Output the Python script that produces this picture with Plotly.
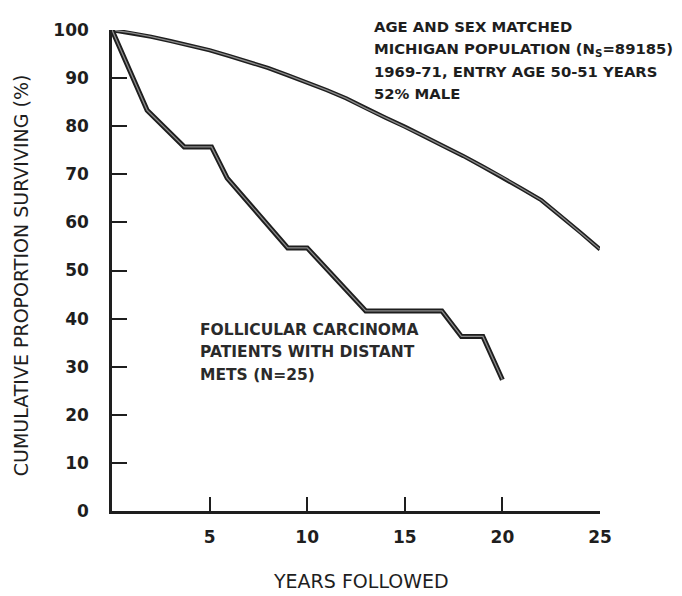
import plotly.graph_objects as go

# ---- data ----
pop_years = [0, 1, 2, 3, 4, 5, 6, 7, 8, 9, 10, 11, 12, 13, 14, 15, 16, 17, 18, 19, 20, 21, 22, 23, 24, 25]
pop_surv = [100, 99.4, 98.6, 97.7, 96.8, 95.8, 94.6, 93.4, 92.1, 90.6, 89.1, 87.5, 85.8, 83.7, 81.8,
            79.9, 77.9, 75.8, 73.8, 71.6, 69.4, 67.0, 64.6, 61.3, 57.9, 54.4]

fol_years = [0, 1.8, 3.7, 5.1, 5.9, 9.0, 10.0, 13.0, 16.9, 17.9, 19.0, 20.0]
fol_surv = [100, 83.3, 75.7, 75.7, 69.2, 54.7, 54.7, 41.6, 41.6, 36.3, 36.3, 27.3]

x_ticks = [5, 10, 15, 20, 25]
y_ticks = [0, 10, 20, 30, 40, 50, 60, 70, 80, 90, 100]

pop_label = ["AGE AND SEX MATCHED",
             "MICHIGAN POPULATION (N<sub>S</sub>=89185)",
             "1969-71, ENTRY AGE 50-51 YEARS",
             "52% MALE"]
fol_label = ["FOLLICULAR CARCINOMA",
             "PATIENTS WITH DISTANT",
             "METS (N=25)"]

FONT = "DejaVu Sans, Verdana, sans-serif"
INK = "#1e1e1e"

fig = go.Figure()
for xs, ys, w in [(pop_years, pop_surv, 4.2), (fol_years, fol_surv, 5)]:
    fig.add_trace(go.Scatter(x=xs, y=ys, mode="lines", line=dict(color=INK, width=w),
                             cliponaxis=False, hoverinfo="skip", showlegend=False))
    fig.add_trace(go.Scatter(x=xs, y=ys, mode="lines", line=dict(color="#8c8c8c", width=1.3),
                             cliponaxis=False, hoverinfo="skip", showlegend=False))

annotations = []
top_y = [1.008, 0.960, 0.913, 0.868]
for t, yy in zip(pop_label, top_y):
    annotations.append(dict(x=0.533, y=yy, xref="paper", yref="paper", text="<b>" + t + "</b>",
                            showarrow=False, xanchor="left", yanchor="middle",
                            font=dict(family=FONT, size=14.8, color=INK)))
fol_y = [0.3755, 0.3306, 0.2837]
for t, yy in zip(fol_label, fol_y):
    annotations.append(dict(x=0.176, y=yy, xref="paper", yref="paper", text="<b>" + t + "</b>",
                            showarrow=False, xanchor="left", yanchor="middle",
                            font=dict(family=FONT, size=15.5, color="#2a2a2a")))

annotations.append(dict(x=-0.1875, y=0.489, xref="paper", yref="paper",
                        text="CUMULATIVE PROPORTION SURVIVING (%)", textangle=-90,
                        showarrow=False, xanchor="center", yanchor="middle",
                        font=dict(family=FONT, size=19, color=INK)))
annotations.append(dict(x=0.510, y=-0.146, xref="paper", yref="paper",
                        text="YEARS FOLLOWED",
                        showarrow=False, xanchor="center", yanchor="middle",
                        font=dict(family=FONT, size=19, color=INK)))

fig.update_layout(
    width=674, height=588,
    margin=dict(l=104, r=82, t=13, b=85),
    paper_bgcolor="white", plot_bgcolor="white",
    annotations=annotations,
    xaxis=dict(range=[0, 25], tickvals=x_ticks, ticktext=[str(v) for v in x_ticks],
               showgrid=False, zeroline=False, showline=True, linecolor=INK, linewidth=2.5,
               ticks="inside", ticklen=14, tickwidth=2, tickcolor=INK,
               ticklabelstandoff=9,
               tickfont=dict(family=FONT, size=17, color=INK, weight="bold")),
    yaxis=dict(range=[0, 100], tickvals=y_ticks, ticktext=[str(v) for v in y_ticks],
               showgrid=False, zeroline=False, showline=True, linecolor=INK, linewidth=2.5,
               ticks="inside", ticklen=15, tickwidth=2, tickcolor=INK,
               ticklabelstandoff=17,
               tickfont=dict(family=FONT, size=17, color=INK, weight="bold")),
)

fig.write_html("out.html")
